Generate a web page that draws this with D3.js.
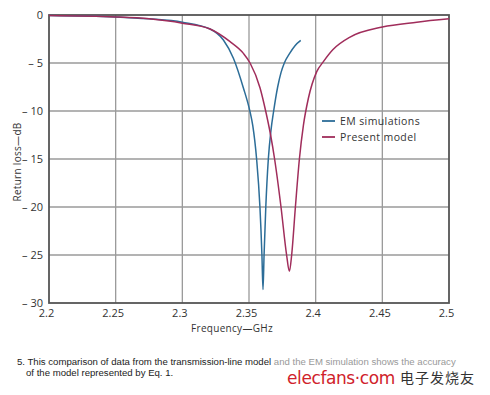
<!DOCTYPE html>
<html>
<head>
<meta charset="utf-8">
<script src="https://cdn.jsdelivr.net/npm/d3@7"></script>
<style>
  body { margin: 0; background: #fff; }
  text { font-family: 'Open Sans', 'DejaVu Sans', sans-serif; }
</style>
</head>
<body>
<script>
var svgWidth = 490;
var svgHeight = 395;

// EM simulation curve: frequency (GHz) / return loss (dB)
var emFreq = [2.2, 2.25, 2.275, 2.3, 2.3208, 2.3308, 2.3383, 2.3458, 2.3508, 2.3528, 2.3557,
    2.3582, 2.3597, 2.3605, 2.3613, 2.3626, 2.3645, 2.3665, 2.3685, 2.3715, 2.374, 2.3765,
    2.3805, 2.3845, 2.3888];
var emLoss = [-0.05, -0.2, -0.4, -0.75, -1.46, -2.6, -4.5, -7.6, -10.1, -11.5, -15,
    -20, -25, -28.6, -25, -20, -15, -12, -10, -7.5, -6, -5,
    -4, -3.2, -2.65];

// present model curve
var modelFreq = [2.2, 2.25, 2.275, 2.3, 2.3208, 2.3358, 2.3458, 2.3508, 2.3583, 2.3625, 2.3662,
    2.3692, 2.374, 2.3782, 2.3803, 2.382, 2.3848, 2.3878, 2.3908, 2.3945, 2.4008, 2.4058, 2.413,
    2.4258, 2.45, 2.4758, 2.5];
var modelLoss = [-0.05, -0.2, -0.4, -0.85, -1.46, -2.78, -4.0, -5.0, -7.6, -10, -12.5,
    -15, -20, -25, -26.7, -25, -20, -15, -11.5, -8.7, -5.9, -4.86, -3.6,
    -2.3, -1.25, -0.75, -0.4];

var xTicks = [2.2, 2.25, 2.3, 2.35, 2.4, 2.45, 2.5];
var yTicks = [0, -5, -10, -15, -20, -25, -30];
var seriesNames = ['EM simulations', 'Present model'];
var seriesColors = ['#2c6d98', '#a02d5b'];

var svg = d3.select('body')
    .append('svg')
    .attr('width', svgWidth)
    .attr('height', svgHeight);

var x = d3.scaleLinear()
    .domain([2.2, 2.5])
    .range([49, 449]);

var y = d3.scaleLinear()
    .domain([0, -30])
    .range([15, 303]);

// grid
svg.append('g')
    .selectAll('line')
    .data(xTicks.slice(1, -1))
    .enter()
    .append('line')
    .attr('x1', function (d) { return x(d); })
    .attr('x2', function (d) { return x(d); })
    .attr('y1', y(0))
    .attr('y2', y(-30))
    .attr('stroke', '#9a9a9a')
    .attr('stroke-width', 1.3);

svg.append('g')
    .selectAll('line')
    .data(yTicks.slice(1, -1))
    .enter()
    .append('line')
    .attr('x1', x(2.2))
    .attr('x2', x(2.5))
    .attr('y1', function (d) { return y(d); })
    .attr('y2', function (d) { return y(d); })
    .attr('stroke', '#9a9a9a')
    .attr('stroke-width', 1.3);

// frame
svg.append('rect')
    .attr('x', x(2.2))
    .attr('y', y(0))
    .attr('width', x(2.5) - x(2.2))
    .attr('height', y(-30) - y(0))
    .attr('fill', 'none')
    .attr('stroke', '#555')
    .attr('stroke-width', 1.8);

// axes (labels only)
var xAxis = svg.append('g')
    .attr('transform', 'translate(0,' + y(-30) + ')')
    .call(d3.axisBottom(x).tickValues(xTicks).tickSize(0).tickPadding(6)
        .tickFormat(function (d) { return String(+d.toFixed(2)); }));
xAxis.select('.domain').remove();
xAxis.selectAll('text')
    .attr('dx', -3)
    .attr('font-size', 11)
    .attr('fill', '#333')
    .style('font-family', "'Open Sans', sans-serif");

var yAxis = svg.append('g')
    .attr('transform', 'translate(' + x(2.2) + ',0)')
    .call(d3.axisLeft(y).tickValues(yTicks).tickSize(0).tickPadding(6)
        .tickFormat(function (d) { return d === 0 ? '0' : '\u2013 ' + Math.abs(d); }));
yAxis.select('.domain').remove();
yAxis.selectAll('text')
    .attr('font-size', 11)
    .attr('fill', '#333')
    .style('font-family', "'Open Sans', sans-serif");

// axis titles
svg.append('text')
    .attr('x', 232)
    .attr('y', 332)
    .attr('text-anchor', 'middle')
    .attr('font-size', 10)
    .attr('letter-spacing', 0.3)
    .attr('fill', '#333')
    .text('Frequency\u2014GHz');

svg.append('text')
    .attr('transform', 'translate(21,162) rotate(-90)')
    .attr('text-anchor', 'middle')
    .attr('font-size', 10)
    .attr('letter-spacing', 0.3)
    .attr('fill', '#333')
    .text('Return loss\u2014dB');

// curves
var line = d3.line()
    .x(function (d) { return x(d[0]); })
    .y(function (d) { return y(d[1]); })
    .curve(d3.curveMonotoneX);

var series = [d3.zip(emFreq, emLoss), d3.zip(modelFreq, modelLoss)];

svg.append('g')
    .selectAll('path')
    .data(series)
    .enter()
    .append('path')
    .attr('d', line)
    .attr('fill', 'none')
    .attr('stroke', function (d, i) { return seriesColors[i]; })
    .attr('stroke-width', 1.5);

// legend
var legend = svg.append('g');
legend.selectAll('line')
    .data(seriesNames)
    .enter()
    .append('line')
    .attr('x1', 322)
    .attr('x2', 335)
    .attr('y1', function (d, i) { return 121 + i * 16; })
    .attr('y2', function (d, i) { return 121 + i * 16; })
    .attr('stroke', function (d, i) { return seriesColors[i]; })
    .attr('stroke-width', 1.8);

legend.selectAll('text')
    .data(seriesNames)
    .enter()
    .append('text')
    .attr('x', 340)
    .attr('y', function (d, i) { return 121 + i * 16; })
    .attr('dy', '0.35em')
    .attr('font-size', 10.5)
    .attr('letter-spacing', 0.4)
    .attr('fill', '#333')
    .text(function (d) { return d; });

// caption
var caption = svg.append('text')
    .attr('x', 17)
    .attr('y', 365)
    .attr('font-size', 9.6)
    .style('font-family', "'Liberation Sans', Arial, sans-serif")
    .attr('fill', '#222');
caption.append('tspan').text('5. This comparison of data from the transmission-line model ');
caption.append('tspan').attr('fill', '#999').text('and the EM simulation shows the accuracy');

svg.append('text')
    .attr('x', 26)
    .attr('y', 376)
    .attr('font-size', 9.6)
    .style('font-family', "'Liberation Sans', Arial, sans-serif")
    .attr('fill', '#222')
    .text('of the model represented by Eq. 1.');

// watermark
svg.append('text')
    .attr('x', 287)
    .attr('y', 384)
    .attr('font-size', 17)
    .style('font-family', "'DejaVu Sans', sans-serif")
    .attr('fill', '#d0222b')
    .attr('letter-spacing', -0.4)
    .text('elecfans\u00b7com');

svg.append('text')
    .attr('x', 400)
    .attr('y', 383)
    .attr('font-size', 14)
    .style('font-family', "'Noto Sans CJK SC', sans-serif")
    .attr('fill', '#333')
    .attr('letter-spacing', 1)
    .text('电子发烧友');
</script>
</body>
</html>
